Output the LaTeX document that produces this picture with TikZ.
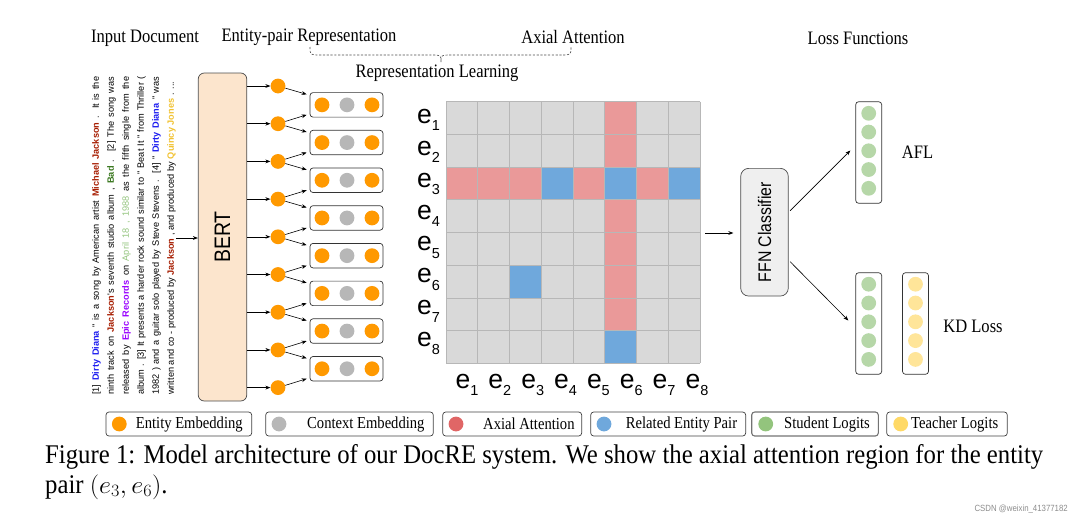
\documentclass[tikz,border=0pt]{standalone}
\usepackage{fontspec}
\setmainfont{Liberation Serif}[FakeStretch=0.87]
\setsansfont{Liberation Sans}[FakeStretch=0.87]
\newfontfamily\plainsans{Liberation Sans}
\usetikzlibrary{arrows.meta,calc}
\definecolor{entorange}{HTML}{FF9900}
\definecolor{ctxgray}{HTML}{B7B7B7}
\definecolor{bertfill}{HTML}{FCE5CD}
\definecolor{ffnfill}{HTML}{EFEFEF}
\definecolor{cellgray}{HTML}{D9D9D9}
\definecolor{gridline}{HTML}{B7B7B7}
\definecolor{cellred}{HTML}{EA9999}
\definecolor{cellblue}{HTML}{6FA8DC}
\definecolor{stugreen}{HTML}{B6D7A8}
\definecolor{teayellow}{HTML}{FFE599}
\definecolor{legred}{HTML}{E06666}
\definecolor{legblue}{HTML}{6FA8DC}
\definecolor{leggreen}{HTML}{93C47D}
\definecolor{legyellow}{HTML}{FFD966}
\definecolor{ddblue}{HTML}{1C1CF0}
\definecolor{mjred}{HTML}{A61C00}
\definecolor{badgreen}{HTML}{38761D}
\definecolor{epic}{HTML}{9900FF}
\definecolor{april}{HTML}{93C47D}
\definecolor{quincy}{HTML}{F1C232}
\newlength\capw
\newcommand\captext{Figure 1: Model architecture of our DocRE system. We show the axial attention region for the entity}
\newcommand\capscaled[1]{\settowidth\capw{\captext}\pgfmathsetmacro\capsc{998/\capw}\scalebox{\capsc}[1]{#1}}
\newcommand\gcell[3]{\fill[#3] ({446+(#2-1)*31.75},{101.7+(#1-1)*32.7}) rectangle ++(31.75,32.7);}
\newcommand\esub[1]{e\raisebox{-7.4pt}{\fontsize{14.5}{14.5}\selectfont #1}}
\begin{document}
\begin{tikzpicture}[x=1pt,y=-1pt,
  lbl/.style={font=\fontsize{19}{19}\selectfont, inner sep=0pt},
  leglbl/.style={font=\fontsize{16.8}{16.8}\selectfont, inner sep=0pt, anchor=west},
  arr/.style={-{Stealth[length=5pt,width=3.8pt]}, line width=0.6pt, black},
  dot/.style={circle, inner sep=0pt, minimum size=14.8pt},
  ent/.style={dot, fill=entorange},
  ctx/.style={dot, fill=ctxgray},
  stu/.style={dot, fill=stugreen},
  tea/.style={dot, fill=teayellow},
  pairbox/.style={draw=black!80, rounded corners=3pt, minimum width=73pt, minimum height=24.5pt, line width=0.7pt},
  logitbox/.style={draw=black!80, rounded corners=3pt, minimum width=26pt, minimum height=101.6pt, line width=0.7pt},
  legbox/.style={draw=black!75, rounded corners=3pt, minimum height=24pt, line width=0.7pt},
  doctext/.style={font=\plainsans\fontsize{9.2}{9.2}\selectfont, inner sep=0pt, rotate=90, anchor=mid west},
  elbl/.style={font=\plainsans\fontsize{26.5}{26.5}\selectfont, inner sep=0pt},
]
\useasboundingbox (0,0) rectangle (1083,525);

% top labels
\node[lbl] (lin) at (145,38) {Input Document};
\node[lbl] (lep) at (309,37) {Entity-pair Representation};
\node[lbl] (lax) at (573,37) {Axial Attention};
\node[lbl] (lloss) at (858,38) {Loss Functions};
\node[lbl] (lrl) at (437,73) {Representation Learning};
\coordinate (bl) at (310,47);
\coordinate (bm) at (441,62);
\coordinate (br) at (571,47);
\draw[black!70, line width=0.6pt, dash pattern=on 2.2pt off 1.6pt]
  (bl) .. controls (310,55) .. (320,55) -- (431,55) .. controls (441,55) .. (bm)
  .. controls (441,55) .. (451,55) -- (561,55) .. controls (571,55) .. (br);

% document text
\node[doctext] (t1) at (96.7,395) {\makebox[318pt][s]{[1] \textcolor{ddblue}{\bfseries Dirty Diana} " is a song by American artist \textcolor{mjred}{\bfseries Michael Jackson} . It is the}};
\node[doctext] (t2) at (111.7,395) {\makebox[318pt][s]{ninth track on \textcolor{mjred}{\bfseries Jackson}'s seventh studio album , \textcolor{badgreen}{\bfseries Bad} . [2] The song was}};
\node[doctext] (t3) at (126.7,395) {\makebox[318pt][s]{released by \textcolor{epic}{\bfseries Epic Records} on \textcolor{april}{April 18 , 1988} as the fifth single from the}};
\node[doctext] (t4) at (141.7,395) {\makebox[318pt][s]{album . [3] It presents a harder rock sound similar to " Beat It " from Thriller (}};
\node[doctext] (t5) at (156.7,395) {\makebox[318pt][s]{1982 ) and a guitar solo played by Steve Stevens . [4] " \textcolor{ddblue}{\bfseries Dirty Diana} " was}};
\node[doctext] (t6) at (171.7,395) {\makebox[313pt][s]{written and co - produced by \textcolor{mjred}{\bfseries Jackson} , and produced by \textcolor{quincy}{\bfseries Quincy Jones} . ...}};

% BERT
\node[draw=black!70, fill=bertfill, rounded corners=6pt, minimum width=48.5pt, minimum height=328pt, line width=0.7pt, inner sep=0pt] (bert) at (222.5,237) {};
\node[rotate=90, font=\sffamily\fontsize{22.4}{22.4}\selectfont, inner sep=0pt] (bertlbl) at (bert.center) {BERT};
\coordinate (docE) at (176,238);
\draw[arr] (docE) -- (bert.west |- docE);

% entity dots
\foreach \i in {1,...,9}{
  \node[ent] (d\i) at (278,{86+37.7*(\i-1)}) {};
  \draw[arr] (bert.east |- d\i) -- (d\i.west);
}
% entity-pair boxes
\foreach \j in {1,...,8}{
  \node[pairbox] (p\j) at (346.5,{86+37.7*(\j-0.5)}) {};
  \node[ent] (p\j a) at (322,{86+37.7*(\j-0.5)}) {};
  \node[ctx] (p\j b) at (347,{86+37.7*(\j-0.5)}) {};
  \node[ent] (p\j c) at (372,{86+37.7*(\j-0.5)}) {};
}
\foreach \j [evaluate=\j as \k using int(\j+1)] in {1,...,8}{
  \draw[arr] (d\j) -- ($(p\j.west)+(-3,-10.5)$);
  \draw[arr] (d\k) -- ($(p\j.west)+(-3,10)$);
}

% grid
\foreach \r in {1,...,8}{\foreach \c in {1,...,8}{\gcell{\r}{\c}{cellgray}}}
\foreach \r in {1,2,4,5,6,7}{\gcell{\r}{6}{cellred}}
\foreach \c in {1,2,3,5,7}{\gcell{3}{\c}{cellred}}
\gcell{3}{4}{cellblue}\gcell{3}{6}{cellblue}\gcell{3}{8}{cellblue}
\gcell{6}{3}{cellblue}\gcell{8}{6}{cellblue}
\foreach \k in {0,...,8}{
  \draw[gridline, line width=0.8pt] ({446+\k*31.75},101.7) -- ({446+\k*31.75},363.3);
  \draw[gridline, line width=0.8pt] (446,{101.7+\k*32.7}) -- (700,{101.7+\k*32.7});
}
\foreach \r in {1,...,8}{
  \node[elbl, anchor=base west] (row\r) at (417,{123.3+31.9*(\r-1)}) {\esub{\r}};
}
\foreach \c in {1,...,8}{
  \node[elbl, anchor=base] (col\c) at ({467+32.85*(\c-1)},388) {\esub{\c}};
}

% FFN
\coordinate (gridE) at (705,233);
\node[draw=black!70, fill=ffnfill, rounded corners=8pt, minimum width=47.6pt, minimum height=127.7pt, line width=0.7pt, inner sep=0pt] (ffn) at (764.5,232.2) {};
\node[rotate=90, font=\sffamily\fontsize{18.2}{18.2}\selectfont, inner sep=0pt] (ffnlbl) at (ffn.center) {FFN Classifier};
\draw[arr, shorten >=7pt] (gridE) -- (ffn.west |- gridE);

% logits
\node[logitbox] (afl) at (868.7,152.5) {};
\node[logitbox] (kds) at (868.7,323.5) {};
\node[logitbox] (kdt) at (915.5,323.5) {};
\foreach \k in {1,...,5}{
  \node[stu] (a\k) at (868.7,{113.3+18.75*(\k-1)}) {};
  \node[stu] (s\k) at (868.7,{284.2+18.8*(\k-1)}) {};
  \node[tea] (y\k) at (915.5,{284.2+18.8*(\k-1)}) {};
}
\draw[arr] ($(ffn.east)+(1.5,-21.5)$) -- ($(afl.west)+(-5,-2)$);
\draw[arr] ($(ffn.east)+(1.5,29.5)$) -- ($(kds.west)+(-7,-3)$);
\node[lbl] (aflL) at (917.5,152) {AFL};
\node[lbl] (kdL) at (973,326) {KD Loss};

% legend
\node[legbox, minimum width=145.7pt] (g1) at (178.85,424) {};
\node[dot, fill=entorange] (g1d) at (119.3,424) {};
\node[leglbl] (g1t) at (135.7,424) {Entity Embedding};
\node[legbox, minimum width=167.6pt] (g2) at (349.5,424) {};
\node[dot, fill=ctxgray] (g2d) at (279,424) {};
\node[leglbl] (g2t) at (307,424) {Context Embedding};
\node[legbox, minimum width=139pt] (g3) at (512.2,424) {};
\node[dot, fill=legred] (g3d) at (456,424) {};
\node[leglbl] (g3t) at (483,424) {Axial Attention};
\node[legbox, minimum width=155pt] (g4) at (668.2,424) {};
\node[dot, fill=legblue] (g4d) at (604,424) {};
\node[leglbl] (g4t) at (625.7,424) {Related Entity Pair};
\node[legbox, minimum width=126.6pt, draw=black!55, line width=1.1pt] (g5) at (815,424) {};
\node[dot, fill=leggreen] (g5d) at (765.7,424) {};
\node[leglbl] (g5t) at (784,424) {Student Logits};
\node[legbox, minimum width=120.6pt] (g6) at (947,424) {};
\node[dot, fill=legyellow] (g6d) at (900.7,424) {};
\node[leglbl] (g6t) at (911,424) {Teacher Logits};

% caption
\node[inner sep=0pt, anchor=base west, font=\fontsize{27}{30}\selectfont] (cap1) at (45,463) {\capscaled{\captext}};
\node[inner sep=0pt, anchor=base west, font=\fontsize{27}{30}\selectfont] (cap2) at (45,493) {\capscaled{pair $(e_3,e_6)$.}};
\node[inner sep=0pt, anchor=east, font=\sffamily\fontsize{9}{9}\selectfont, text=black!45] (wm) at (1068,509) {CSDN @weixin\_41377182};
\end{tikzpicture}
\end{document}
